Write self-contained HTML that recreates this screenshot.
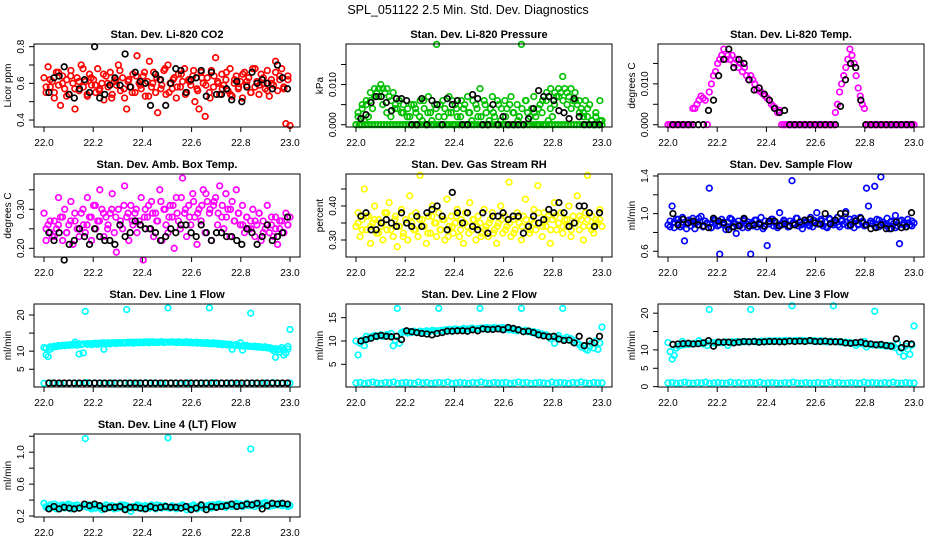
<!DOCTYPE html>
<html><head><meta charset="utf-8">
<style>
html,body{margin:0;padding:0;background:#fff;}
svg{display:block;font-family:"Liberation Sans",Arial,sans-serif;}
</style></head>
<body>
<svg id="chart" width="936" height="540" viewBox="0 0 936 540" xmlns="http://www.w3.org/2000/svg">
<rect x="0" y="0" width="936" height="540" fill="#fff"/>
<text x="468" y="14" text-anchor="middle" font-size="12.5">SPL_051122  2.5 Min. Std. Dev. Diagnostics</text>
</svg>
<script>
// ---------- data ----------
const xTicks = [22.0,22.2,22.4,22.6,22.8,23.0];
const xTickLabels = ["22.0","22.2","22.4","22.6","22.8","23.0"];
const panelTitles = ["Stan. Dev. Li-820 CO2","Stan. Dev. Li-820 Pressure","Stan. Dev. Li-820 Temp.","Stan. Dev. Amb. Box Temp.","Stan. Dev. Gas Stream RH","Stan. Dev. Sample Flow","Stan. Dev. Line 1 Flow","Stan. Dev. Line 2 Flow","Stan. Dev. Line 3 Flow","Stan. Dev. Line 4 (LT) Flow"];
const yTitles = ["Licor ppm","kPa","degrees C","degrees C","percent","ml/min","ml/min","ml/min","ml/min","ml/min"];

const co2Red = [0.63,0.55,0.69,0.58,0.61,0.52,0.66,0.59,0.48,0.64,0.57,0.62,0.54,0.67,0.60,0.46,0.63,0.56,0.70,0.58,0.61,0.53,0.65,0.59,0.62,0.55,0.68,0.57,0.60,0.51,0.64,0.58,0.66,0.54,0.61,0.59,0.70,0.56,0.63,0.52,0.46,0.62,0.58,0.65,0.55,0.75,0.60,0.57,0.64,0.53,0.61,0.72,0.58,0.66,0.55,0.44,0.62,0.59,0.67,0.54,0.70,0.60,0.57,0.63,0.52,0.65,0.58,0.61,0.68,0.55,0.62,0.59,0.64,0.50,0.57,0.46,0.66,0.60,0.42,0.63,0.55,0.67,0.58,0.74,0.61,0.54,0.65,0.59,0.62,0.56,0.68,0.53,0.60,0.64,0.57,0.61,0.52,0.66,0.59,0.63,0.55,0.68,0.58,0.61,0.54,0.65,0.60,0.57,0.67,0.53,0.62,0.59,0.72,0.56,0.64,0.68,0.58,0.38,0.62,0.37];
const co2Red2 = [0.58,0.62,0.55,0.66,0.60,0.53,0.64,0.57,0.61,0.68,0.54,0.63,0.59,0.56,0.65,0.60,0.52,0.62,0.67,0.57,0.61,0.55,0.64,0.59,0.66,0.53,0.60,0.63,0.57,0.68,0.55,0.62,0.58,0.65,0.54,0.61,0.67,0.56,0.63,0.59,0.52,0.64,0.60,0.57,0.66,0.54,0.62,0.58,0.65,0.61,0.55,0.68,0.59,0.63,0.56,0.60,0.66,0.62,0.57,0.64];
const co2Black = [0.55,0.63,0.64,0.69,0.54,0.52,0.57,0.62,0.55,0.80,0.52,0.54,0.59,0.63,0.59,0.76,0.58,0.66,0.61,0.60,0.48,0.65,0.62,0.48,0.60,0.68,0.67,0.55,0.62,0.63,0.67,0.53,0.66,0.54,0.54,0.57,0.51,0.61,0.50,0.58,0.66,0.60,0.62,0.60,0.57,0.70,0.63,0.57];

const presGreen = [0,0.003,0,0.004,0.001,0.005,0.002,0.006,0.004,0.007,0.008,0.009,0.010,0.009,0.008,0.009,0.007,0.006,0.008,0.005,0.004,0.006,0.003,0.005,0,0.004,0.002,0,0.005,0.003,0,0.006,0.001,0.004,0,0.007,0.003,0,0.005,0.020,0.002,0,0.006,0.004,0,0.007,0.003,0,0.005,0.002,0,0.006,0.004,0,0.007,0.003,0.001,0,0.005,0.002,0.009,0,0.006,0.003,0,0.004,0.007,0.002,0,0.005,0.001,0,0.006,0.004,0,0.007,0.003,0,0.005,0.002,0.020,0,0.006,0.003,0,0.004,0.007,0.002,0,0.005,0.003,0,0.006,0.001,0.004,0.002,0.005,0.007,0.009,0.008,0.012,0.009,0.008,0.007,0.009,0.006,0.008,0.005,0.006,0.004,0.003,0.006,0.002,0.005,0.001,0,0.003,0,0.006,0.001];
const presGreen2 = [0.002,0.005,0.006,0.008,0.009,0.007,0.005,0.003,0.002,0.004,0.006,0.003,0.002,0.005,0.004,0.002,0.006,0.003,0.001,0.004,0.005,0.002,0.003,0.006,0.004,0.002,0.005,0.003,0.006,0.004,0.002,0.005,0.001,0.003,0.006,0.004,0.002,0.005,0.003,0.001,0.004,0.006,0.002,0.003,0.004,0.006,0.008,0.009,0.008,0.007,0.006,0.005,0.004,0.006,0.003,0.002,0.004,0.001,0.002,0.001];
const presZeroBand = [0,0,0,0,0,0,0,0,0,0,0,0,0,0,0,0,0,0,0,0,0,0,0,0,0,0,0,0,0,0,0,0,0,0,0,0,0,0,0,0,0,0,0,0,0,0,0,0,0,0,0,0,0,0,0,0,0,0,0,0,0,0,0,0,0,0,0,0,0,0,0,0,0,0,0,0,0,0,0,0];
const presBlack = [0.0015,0.0025,0.0055,0.007,0.007,0.0055,0.0035,0.0065,0.0065,0.006,0,0,0.0065,0,0.006,0.005,0,0.0065,0.005,0.006,0,0,0.0075,0.0065,0,0,0.005,0,0.002,0,0,0,0,0.0015,0.004,0.0085,0.007,0.007,0.006,0.0035,0.003,0.0015,0.0065,0.002,0,0,0,0];

const tempMag = [0,0,0,0,0,0,0,0,0,0,0,0,0.004,0.004,0.005,0.006,0.007,0.0065,0.006,0,0.008,0.010,0.012,0.013,0.015,0.016,0.017,0.0185,0.016,0.017,0.016,0.017,0.015,0.016,0.014,0.015,0.013,0.014,0.012,0.011,0.012,0.011,0.010,0.0085,0.009,0.008,0.0075,0.007,0.0065,0.006,0.005,0.0045,0.004,0.003,0.0035,0,0,0,0,0,0,0,0,0,0,0,0,0,0,0,0,0,0,0,0,0,0,0,0,0,0,0.003,0.005,0.008,0.010,0.012,0.014,0.016,0.0185,0.017,0.015,0.012,0.009,0.007,0.005,0.004,0,0,0,0,0,0,0,0,0,0,0,0,0,0,0,0,0,0,0,0,0,0,0,0];
const tempBlack = [0,0,0,0,0,0,0,0.0035,0.006,0.012,0.016,0.0185,0.014,0.016,0.015,0.011,0.0085,0.009,0.0075,0.006,0.004,0.003,0.0035,0,0,0,0,0,0,0,0,0,0,0.0045,0.011,0.015,0.014,0.006,0,0,0,0,0,0,0,0,0,0];

const ambMag = [0.29,0.22,0.26,0.24,0.23,0.27,0.25,0.33,0.28,0.22,0.30,0.24,0.26,0.32,0.21,0.27,0.25,0.23,0.29,0.26,0.24,0.33,0.28,0.22,0.31,0.25,0.27,0.35,0.30,0.23,0.28,0.26,0.29,0.34,0.24,0.19,0.30,0.27,0.25,0.36,0.28,0.22,0.31,0.26,0.29,0.24,0.27,0.33,0.17,0.30,0.28,0.25,0.32,0.23,0.29,0.27,0.35,0.22,0.30,0.26,0.24,0.31,0.28,0.20,0.33,0.27,0.25,0.38,0.29,0.23,0.31,0.26,0.34,0.28,0.21,0.30,0.27,0.35,0.24,0.32,0.29,0.22,0.31,0.33,0.26,0.36,0.28,0.25,0.34,0.30,0.23,0.32,0.27,0.35,0.29,0.26,0.31,0.24,0.28,0.25,0.27,0.30,0.23,0.26,0.29,0.22,0.27,0.25,0.31,0.24,0.26,0.23,0.28,0.21,0.25,0.27,0.24,0.29,0.26,0.28];
const ambMag2 = [0.25,0.27,0.23,0.26,0.28,0.24,0.27,0.29,0.25,0.30,0.26,0.28,0.31,0.27,0.29,0.25,0.30,0.28,0.26,0.31,0.29,0.27,0.30,0.26,0.28,0.31,0.29,0.27,0.32,0.30,0.28,0.31,0.29,0.33,0.30,0.28,0.32,0.29,0.31,0.34,0.30,0.32,0.29,0.31,0.28,0.30,0.27,0.29,0.26,0.28,0.25,0.27,0.29,0.24,0.26,0.28,0.25,0.27,0.24,0.26];
const ambBlack = [0.24,0.22,0.24,0.17,0.21,0.22,0.25,0.23,0.21,0.25,0.23,0.22,0.22,0.21,0.26,0.23,0.24,0.27,0.26,0.25,0.25,0.24,0.22,0.23,0.25,0.24,0.26,0.26,0.24,0.23,0.26,0.24,0.22,0.24,0.24,0.23,0.23,0.22,0.21,0.25,0.24,0.21,0.23,0.26,0.22,0.23,0.24,0.28];

const rhYellow = [0.34,0.38,0.31,0.36,0.45,0.33,0.37,0.29,0.35,0.40,0.32,0.36,0.34,0.30,0.38,0.33,0.41,0.35,0.31,0.37,0.28,0.34,0.39,0.32,0.36,0.30,0.43,0.35,0.33,0.38,0.31,0.49,0.36,0.34,0.29,0.37,0.32,0.40,0.35,0.31,0.38,0.33,0.36,0.30,0.42,0.34,0.37,0.32,0.35,0.39,0.31,0.36,0.29,0.38,0.34,0.41,0.33,0.36,0.30,0.37,0.35,0.32,0.39,0.34,0.31,0.36,0.38,0.33,0.29,0.35,0.40,0.32,0.37,0.34,0.47,0.31,0.36,0.33,0.38,0.35,0.30,0.37,0.42,0.34,0.32,0.36,0.39,0.33,0.46,0.35,0.31,0.38,0.34,0.37,0.29,0.36,0.41,0.33,0.35,0.38,0.32,0.36,0.34,0.40,0.31,0.37,0.35,0.43,0.33,0.36,0.30,0.38,0.49,0.34,0.37,0.32,0.36,0.35,0.39,0.34];
const rhYellow2 = [0.35,0.33,0.37,0.34,0.36,0.32,0.35,0.38,0.33,0.36,0.34,0.31,0.35,0.37,0.33,0.36,0.34,0.32,0.37,0.35,0.33,0.36,0.31,0.34,0.37,0.33,0.35,0.32,0.36,0.34,0.31,0.33,0.35,0.32,0.34,0.36,0.33,0.35,0.32,0.37,0.34,0.36,0.33,0.35,0.38,0.34,0.36,0.33,0.37,0.35,0.34,0.36,0.33,0.35,0.37,0.34,0.36,0.33,0.35,0.36];
const rhBlack = [0.37,0.38,0.33,0.33,0.35,0.36,0.35,0.34,0.38,0.35,0.34,0.37,0.34,0.38,0.39,0.40,0.37,0.33,0.44,0.38,0.35,0.38,0.34,0.33,0.38,0.32,0.37,0.37,0.38,0.36,0.37,0.37,0.32,0.34,0.37,0.35,0.36,0.39,0.38,0.41,0.38,0.34,0.35,0.40,0.40,0.38,0.34,0.38];

const flowBlue = [0.88,0.92,1.08,0.85,0.94,0.90,0.86,0.96,0.71,0.89,0.93,0.87,0.95,0.84,0.91,0.88,0.97,0.86,0.92,0.89,1.27,0.85,0.93,0.90,0.87,0.57,0.94,0.88,0.83,0.91,0.95,0.86,0.90,0.79,0.92,0.88,0.85,0.94,0.89,0.91,0.57,0.87,0.93,0.86,0.90,0.96,0.84,0.92,0.66,0.89,0.94,0.87,0.91,0.85,1.01,0.88,0.93,0.90,0.86,0.92,1.35,0.89,0.95,0.87,0.91,0.84,0.93,0.90,0.88,0.96,0.86,0.92,1.01,0.89,0.94,0.87,0.91,0.85,0.95,0.90,0.88,0.93,0.96,0.86,0.92,0.89,1.02,0.87,0.94,0.91,0.85,0.93,0.88,0.96,0.90,0.87,1.27,1.08,0.92,0.89,1.29,0.94,0.86,1.39,0.91,0.88,0.95,0.84,0.92,0.89,0.98,0.87,0.68,0.93,0.90,0.86,0.94,0.88,0.92,0.90];
const flowBlue2 = [0.86,0.91,0.94,0.88,0.84,0.92,0.89,0.95,0.87,0.90,0.85,0.93,0.88,0.91,0.86,0.94,0.89,0.87,0.92,0.85,0.90,0.93,0.88,0.86,0.91,0.94,0.87,0.89,0.92,0.86,0.90,0.95,0.88,0.91,0.87,0.93,0.89,0.92,0.86,0.94,0.90,0.88,0.93,0.91,0.87,0.95,0.89,0.92,0.88,0.90,0.86,0.93,0.89,0.87,0.91,0.85,0.92,0.88,0.90,0.87];
const flowBlack = [1.0,0.88,0.94,0.9,0.92,0.88,0.87,0.85,0.95,0.92,0.9,0.83,0.86,0.87,0.95,0.87,0.88,0.89,0.87,0.92,0.92,0.87,0.89,0.87,0.88,0.91,0.93,0.94,0.9,0.89,1.0,0.89,0.93,1.0,1.0,0.88,0.92,0.95,0.88,0.84,0.85,0.88,0.84,0.84,0.91,0.85,0.86,1.01];

const line1Cyan = [11,9,8.5,10.5,11,11.2,11.3,11.5,11.4,11.6,11.5,11.7,11.6,11.8,11.7,12.5,11.6,9.2,11.8,9.5,21,11.9,12,11.8,12.1,12,11.9,12.1,12.2,10.5,12.1,12.2,12,12.3,12.2,12.1,12.3,12.2,12.3,12.2,21.5,12.3,12.4,12.2,12.3,12.4,12.3,12.4,12.3,12.5,12.4,12.3,12.5,12.4,12.5,12.4,12.5,12.6,12.4,12.5,22,12.5,12.6,12.5,12.4,12.6,12.5,12.4,12.5,12.6,12.4,12.5,12.3,12.4,12.5,12.3,12.4,12.2,12.3,12.4,22,12.2,12.3,12.1,12.2,12,12.1,11.9,12,11.8,11.9,10.5,11.7,11.8,11.6,12.3,10.3,11.5,11.6,11.4,20.5,11.3,11.4,11.2,11.3,11.1,11,11.2,10.9,11,10.6,10.2,8.3,10.4,9.8,11,8.9,9.5,11.3,16];
const line1Band = [10.8,11.2,11.4,11.5,11.6,11.7,11.8,11.9,12.0,12.0,12.1,12.1,12.2,12.2,12.3,12.3,12.3,12.4,12.4,12.4,12.5,12.5,12.5,12.5,12.6,12.6,12.6,12.5,12.6,12.5,12.5,12.5,12.4,12.4,12.4,12.3,12.3,12.2,12.2,12.1,12.0,12.0,11.9,11.8,11.8,11.7,11.6,11.5,11.4,11.4,11.3,11.2,11.1,11.0,10.9,10.8,10.7,10.5,10.4,10.6];
const line1CyanLow = [1.1,1.2,1.0,1.2,1.1,1.3,1.2,1.1,1.2,1.0,1.2,1.1,1.3,1.2,1.1,1.2,1.0,1.2,1.1,1.2,1.3,1.1,1.2,1.0,1.2,1.1,1.2,1.3,1.1,1.2];
const line1Black = [1.2,1.2,1.2,1.2,1.2,1.2,1.2,1.2,1.2,1.2,1.2,1.2,1.2,1.2,1.2,1.2,1.2,1.2,1.2,1.2,1.2,1.2,1.2,1.2,1.2,1.2,1.2,1.2,1.2,1.2,1.2,1.2,1.2,1.2,1.2,1.2,1.2,1.2,1.2,1.2,1.2,1.2,1.2,1.2,1.2,1.2,1.2,1.2];

const line2Cyan = [10,7,9.5,10.2,9,11,10.5,10.8,11,11.2,10.9,11.1,11.3,11,11.2,11.4,11.1,11.6,9,10.2,17,9.5,11.8,12,11.9,11.7,12,11.8,12.1,11.9,11.8,12.1,12,11.9,12.2,12,12.1,12.3,12.1,12.2,17,12.3,12.2,12.4,12.3,12.5,12.2,12.4,12.6,12.3,12.5,12.4,12.7,12.5,12.6,12.4,12.8,12.6,12.5,12.7,17,12.8,12.6,12.9,12.7,12.8,12.6,12.9,12.7,12.8,12.6,12.9,12.5,12.7,12.4,12.6,12.3,12.5,12.2,12.4,17,12.1,12.3,12,12.1,11.8,12,11.6,11.8,11.4,11.5,11.2,11.3,11,10.5,11,9.5,10.8,11.2,10.6,17,10.4,10.8,10.2,10.5,9.8,10.1,9.6,9.2,8.7,9,8.3,8,8.8,9.5,8.5,10,8.2,9.6,13];
const line2CyanLow = [1.0,1.1,0.9,1.0,1.2,1.0,0.9,1.1,1.0,1.2,0.9,1.0,1.1,1.0,0.9,1.2,1.0,1.1,0.9,1.0,1.1,1.0,1.2,0.9,1.0,1.1,1.0,0.9,1.1,1.0,1.2,1.0,0.9,1.1,1.0,1.0,1.1,0.9,1.0,1.2,1.0,1.1,0.9,1.0,1.1,1.0,0.9,1.2,1.0,1.1,1.0,0.9,1.1,1.0,1.2,1.0,0.9,1.1,1.0,1.0];
const line2Black = [10,10.3,10.6,11,11.2,11,10.9,11,10.3,12.2,12,11.8,11.6,11.5,11.3,11.6,11.8,12.1,12.1,12.2,12.2,12.1,12.4,12.2,12.6,12.5,12.5,12.6,12.4,12.9,12.7,12.4,12,12.1,11.8,11.3,11.1,10.9,11,10.4,10.1,10.2,9.6,11,9,10,9.6,11];

const line3Cyan = [12,9.5,7.5,8.5,10.5,11,11.2,12.3,11.4,11.6,11.5,11.7,11.6,11.8,11.7,12.5,11.9,11.6,12,11.2,21,11.9,12,11.8,12.1,12,11.9,12.1,12.2,11.2,12.1,12.2,12,12.3,12.2,12.1,12.3,12.2,12.3,12.2,21,12.3,12.4,12.2,12.3,12.4,12.3,12.4,12.3,12.5,12.4,12.3,12.5,12.4,12.5,12.4,12.5,12.6,12.4,12.5,22,12.5,12.6,12.5,12.4,12.6,12.5,12.4,12.5,12.6,12.4,12.5,12.3,12.4,12.5,12.3,12.4,12.2,12.3,12.4,22,12.2,12.3,12.1,12.2,12,12.1,11.9,12,11.8,11.9,11.2,11.7,11.8,11.6,12.3,10.8,11.5,11.6,11.4,20.5,11.3,11.4,11.2,11.3,11.1,11,11.2,10.9,11,10.6,11.8,9.5,10.4,8.3,11,10.2,8.8,11.3,16.5];
const line3CyanLow = [1.0,1.1,0.9,1.0,1.2,1.0,0.9,1.1,1.0,1.2,0.9,1.0,1.1,1.0,0.9,1.2,1.0,1.1,0.9,1.0,1.1,1.0,1.2,0.9,1.0,1.1,1.0,0.9,1.1,1.0,1.2,1.0,0.9,1.1,1.0,1.0,1.1,0.9,1.0,1.2,1.0,1.1,0.9,1.0,1.1,1.0,0.9,1.2,1.0,1.1,1.0,0.9,1.1,1.0,1.2,1.0,0.9,1.1,1.0,1.0];
const line3Black = [11.5,11.6,11.7,11.8,11.6,11.7,11.9,12.5,11,12.1,12.1,12.1,11.9,12.1,12.3,12.2,12.3,12.1,12.2,12.3,12.3,12.2,12.2,12.4,12.3,12.4,12.3,12.5,12.3,12.3,12.4,12.2,12.2,12.2,11.9,11.8,12,12.1,11.7,11.6,11.4,11.5,11.2,11,13,10.6,11.7,11.6];

const line4Cyan = [0.36,0.32,0.30,0.34,0.31,0.35,0.29,0.33,0.31,0.34,0.30,0.32,0.35,0.29,0.33,0.31,0.34,0.30,0.32,0.33,1.17,0.31,0.34,0.29,0.32,0.30,0.33,0.31,0.28,0.32,0.34,0.30,0.31,0.33,0.29,0.32,0.30,0.34,0.31,0.29,0.33,0.30,0.26,0.32,0.31,0.34,0.30,0.32,0.29,0.33,0.31,0.30,0.34,0.32,0.29,0.31,0.33,0.30,0.32,0.31,1.18,0.30,0.33,0.31,0.29,0.32,0.30,0.34,0.31,0.28,0.32,0.30,0.33,0.31,0.29,0.32,0.34,0.30,0.31,0.33,0.32,0.30,0.34,0.31,0.33,0.35,0.32,0.34,0.31,0.33,0.35,0.32,0.34,0.36,0.33,0.35,0.32,0.34,0.36,0.33,1.04,0.35,0.32,0.34,0.36,0.33,0.35,0.37,0.34,0.32,0.36,0.33,0.35,0.34,0.36,0.33,0.35,0.34,0.32,0.33];
const line4Cyan2 = [0.31,0.33,0.35,0.30,0.32,0.34,0.31,0.33,0.30,0.32,0.34,0.31,0.33,0.30,0.32,0.31,0.33,0.30,0.32,0.34,0.31,0.30,0.32,0.33,0.31,0.30,0.32,0.34,0.31,0.33,0.30,0.32,0.31,0.33,0.32,0.30,0.34,0.31,0.33,0.32,0.34,0.33,0.35,0.32,0.34,0.33,0.35,0.34,0.32,0.36,0.33,0.35,0.34,0.36,0.33,0.35,0.34,0.36,0.33,0.35];
const line4Black = [0.29,0.32,0.29,0.31,0.30,0.29,0.30,0.35,0.33,0.35,0.33,0.29,0.31,0.31,0.32,0.28,0.31,0.31,0.30,0.29,0.32,0.30,0.31,0.32,0.31,0.31,0.30,0.32,0.28,0.30,0.34,0.28,0.32,0.31,0.32,0.33,0.35,0.32,0.33,0.35,0.34,0.36,0.29,0.33,0.36,0.35,0.36,0.35];

// ---------- layout ----------
const colX22 = [44,356,668];
const rowTop = [44,174,304,434];
const NS = "http://www.w3.org/2000/svg";
const svg = document.getElementById('chart');
function mk(tag, attrs, parent){
  const e = document.createElementNS(NS, tag);
  for (const k in attrs) e.setAttribute(k, attrs[k]);
  (parent||svg).appendChild(e);
  return e;
}
const panels = [
  {ymin:0.362,ymax:0.8145,ticks:[0.4,0.5,0.6,0.7,0.8],labels:["0.4","","0.6","","0.8"],series:[[co2Red,'#ff0000'],[co2Red2,'#ff0000'],[co2Black,'#000']]},
  {ymin:-0.00057,ymax:0.0201,ticks:[0,0.005,0.01,0.015],labels:["0.000","","0.010",""],series:[[presZeroBand,'#00c000'],[presGreen,'#00c000'],[presGreen2,'#00c000'],[presBlack,'#000']]},
  {ymin:-0.00056,ymax:0.01976,ticks:[0,0.005,0.01,0.015],labels:["0.000","","0.010",""],series:[[tempMag,'#ff00ff'],[tempBlack,'#000']]},
  {ymin:0.1777,ymax:0.3905,ticks:[0.2,0.25,0.3,0.35],labels:["0.20","","0.30",""],series:[[ambMag,'#ff00ff'],[ambMag2,'#ff00ff'],[ambBlack,'#000']]},
  {ymin:0.25,ymax:0.494,ticks:[0.3,0.35,0.4,0.45],labels:["0.30","","0.40",""],series:[[rhYellow,'#ffff00'],[rhYellow2,'#ffff00'],[rhBlack,'#000']]},
  {ymin:0.539,ymax:1.421,ticks:[0.6,0.8,1.0,1.2,1.4],labels:["0.6","","1.0","","1.4"],series:[[flowBlue,'#0000ff'],[flowBlue2,'#0000ff'],[flowBlack,'#000']]},
  {ymin:0.08,ymax:23.05,ticks:[5,10,15,20],labels:["5","10","","20"],series:[[line1Cyan,'#00ffff'],[line1Band,'#00ffff'],[line1CyanLow,'#00ffff'],[line1Black,'#000']]},
  {ymin:0.13,ymax:17.94,ticks:[5,10,15],labels:["5","10","15"],series:[[line2CyanLow,'#00ffff'],[line2Cyan,'#00ffff'],[line2Black,'#000']]},
  {ymin:-0.1,ymax:22.5,ticks:[0,5,10,15,20],labels:["0","5","10","","20"],series:[[line3CyanLow,'#00ffff'],[line3Cyan,'#00ffff'],[line3Black,'#000']]},
  {ymin:0.188,ymax:1.228,ticks:[0.2,0.4,0.6,0.8,1.0,1.2],labels:["0.2","","0.6","","1.0",""],series:[[line4Cyan,'#00ffff'],[line4Cyan2,'#00ffff'],[line4Black,'#000']]}
];
const H = 83;
panels.forEach((p, idx) => {
  const c = idx % 3, r = Math.floor(idx / 3);
  const x0 = colX22[c], top = rowTop[r], bot = top + H;
  const left = x0 - 10, right = x0 + 256;
  const xs = v => x0 + (v - 22) * 246;
  const ys = v => bot - (v - p.ymin) / (p.ymax - p.ymin) * H;
  const g = mk('g', {});
  
  
  const t = mk('text', {x: x0 + 123, y: top - 6, 'text-anchor':'middle', 'font-size':'11', 'font-weight':'bold'}, g);
  t.textContent = panelTitles[idx];
  
  
  const pts = mk('g', {fill:'none','stroke-width':'1.7'}, g);
  
  
  p.series.forEach(([arr, col], si) => {
    const n = arr.length;
    const isBlack = col === '#000';
    const off = (!isBlack && n === 60 && si > 0) ? 0.5 / (n - 1) : 0;
    arr.forEach((v, i) => {
      const xv = isBlack ? 22.02 + i * (0.97 / (n - 1)) : 22 + off + i / (n - 1) * (1 - 2 * off);
      const cc = mk('circle', {cx: xs(xv).toFixed(1), cy: ys(v).toFixed(1), r: 2.8, stroke: col}, pts);
      
      
    });
  });
  const box = mk('rect', {x:left, y:top, width:right-left, height:H, fill:'none', stroke:'#000', 'stroke-width':'1'}, g);
  
  
  const xa = mk('g', {}, g);
  
  
  xTicks.forEach((tv, i) => {
    const x = xs(tv);
    mk('line', {x1:x, y1:bot, x2:x, y2:bot+5, stroke:'#000'}, xa);
    const lt = mk('text', {x:x, y:bot+19, 'text-anchor':'middle', 'font-size':'10'}, xa);
    lt.textContent = xTickLabels[i];
  });
  const ya = mk('g', {}, g);
  
  
  p.ticks.forEach((tv, i) => {
    const y = ys(tv);
    mk('line', {x1:left, y1:y, x2:left-5, y2:y, stroke:'#000'}, ya);
    if (p.labels[i]) {
      const lt = mk('text', {x:left-10, y:y, 'text-anchor':'middle', 'font-size':'10', transform:`rotate(-90 ${left-10} ${y})`}, ya);
      lt.textContent = p.labels[i];
    }
  });
  const yt = mk('text', {x:left-23, y:top+H/2, 'text-anchor':'middle', 'font-size':'10', transform:`rotate(-90 ${left-23} ${top+H/2})`}, g);
  yt.textContent = yTitles[idx];
  
  
});
</script>
</body></html>
